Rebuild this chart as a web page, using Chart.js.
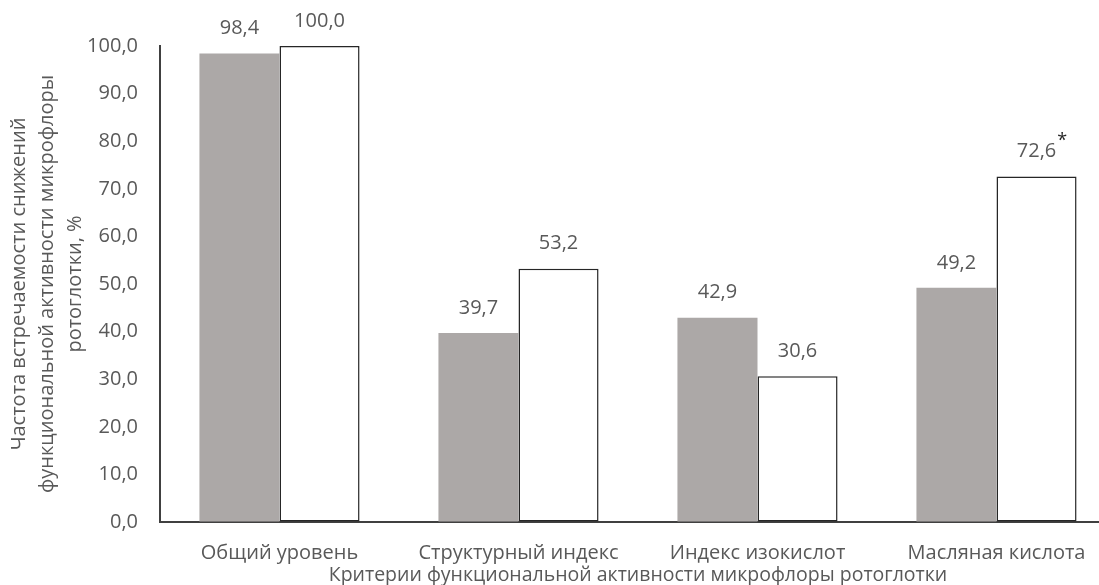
<!DOCTYPE html>
<html lang="ru">
<head>
<meta charset="utf-8">
<script src="https://cdn.jsdelivr.net/npm/chart.js@4/dist/chart.umd.min.js"></script>
<style>
  html, body { margin: 0; padding: 0; background: #fff; overflow: hidden; }
  #wrap { width: 1116px; height: 585px; }
</style>
</head>
<body>
<div id="wrap"><canvas id="chart" width="1116" height="585"></canvas></div>
<script>
// Данные диаграммы
const categories = ['Общий уровень', 'Структурный индекс', 'Индекс изокислот', 'Масляная кислота'];
const series1 = [98.4, 39.7, 42.9, 49.2];
const series2 = [100.0, 53.2, 30.6, 72.6];
const series2Marks = ['', '', '', '*'];   // отметка достоверности различий
const yTicks = [0, 10, 20, 30, 40, 50, 60, 70, 80, 90, 100];

const yTitle = ['Частота встречаемости снижений', 'функциональной активности микрофлоры', 'ротоглотки, %'];
const xTitle = 'Критерии функциональной активности микрофлоры ротоглотки';

const textColor = '#595959';
const fontFamily = '"Open Sans", sans-serif';
const fmt = v => v.toFixed(1).replace('.', ',');

// подписи значений над столбцами и подписи осей
const labelsPlugin = {
    id: 'labels',
    afterDraw(chart) {
        const ctx = chart.ctx;
        const area = chart.chartArea;
        ctx.save();
        ctx.fillStyle = textColor;
        ctx.font = '20px ' + fontFamily;
        ctx.textAlign = 'center';
        ctx.textBaseline = 'middle';
        chart.data.datasets.forEach((ds, i) => {
            chart.getDatasetMeta(i).data.forEach((bar, j) => {
                const y = bar.y - 25;
                const txt = fmt(ds.data[j]);
                ctx.fillText(txt, bar.x, y);
                const mark = ds.marks ? ds.marks[j] : '';
                if (mark) {
                    const w = ctx.measureText(txt).width;
                    ctx.save();
                    ctx.font = '18px ' + fontFamily;
                    ctx.textAlign = 'left';
                    ctx.fillStyle = '#262626';
                    ctx.fillText(mark, bar.x + w / 2 + 1, y - 11);
                    ctx.restore();
                }
            });
        });

        // подпись оси X
        ctx.font = '19.5px ' + fontFamily;
        ctx.fillText(xTitle, (area.left + area.right) / 2, 575);

        // подпись оси Y, три строки
        const cy = (area.top + area.bottom) / 2;
        const xs = [19, 47, 75];
        ctx.font = '20px ' + fontFamily;
        yTitle.forEach((line, k) => {
            ctx.save();
            ctx.translate(xs[k], cy);
            ctx.rotate(-Math.PI / 2);
            ctx.fillText(line, 0, 0);
            ctx.restore();
        });
        ctx.restore();
    }
};

new Chart(document.getElementById('chart'), {
    type: 'bar',
    data: {
        labels: categories,
        datasets: [
            {
                label: 'Серия 1',
                data: series1,
                backgroundColor: '#aca8a7',
                borderWidth: 0,
                categoryPercentage: 0.67,
                barPercentage: 1.0
            },
            {
                label: 'Серия 2',
                data: series2,
                marks: series2Marks,
                backgroundColor: '#ffffff',
                borderColor: '#262626',
                borderWidth: 1.5,
                borderSkipped: false,
                categoryPercentage: 0.67,
                barPercentage: 1.0
            }
        ]
    },
    options: {
        responsive: false,
        animation: false,
        layout: { padding: { top: 46, right: 0, bottom: 0, left: 0 } },
        plugins: {
            legend: { display: false },
            tooltip: { enabled: false }
        },
        scales: {
            x: {
                grid: { display: false },
                border: { display: true, color: '#404040', width: 2 },
                ticks: {
                    color: textColor,
                    font: { family: fontFamily, size: 20 },
                    padding: 11,
                    maxRotation: 0
                },
                afterFit(scale) { scale.height = 63; }
            },
            y: {
                min: 0,
                max: 100,
                afterBuildTicks(scale) { scale.ticks = yTicks.map(v => ({ value: v })); },
                grid: { drawOnChartArea: false, drawTicks: false },
                border: { display: true, color: '#404040', width: 2 },
                ticks: {
                    color: textColor,
                    font: { family: fontFamily, size: 20 },
                    padding: 22,
                    callback: v => fmt(v)
                },
                afterFit(scale) { scale.width = 160; }
            }
        }
    },
    plugins: [labelsPlugin]
});
</script>
</body>
</html>
